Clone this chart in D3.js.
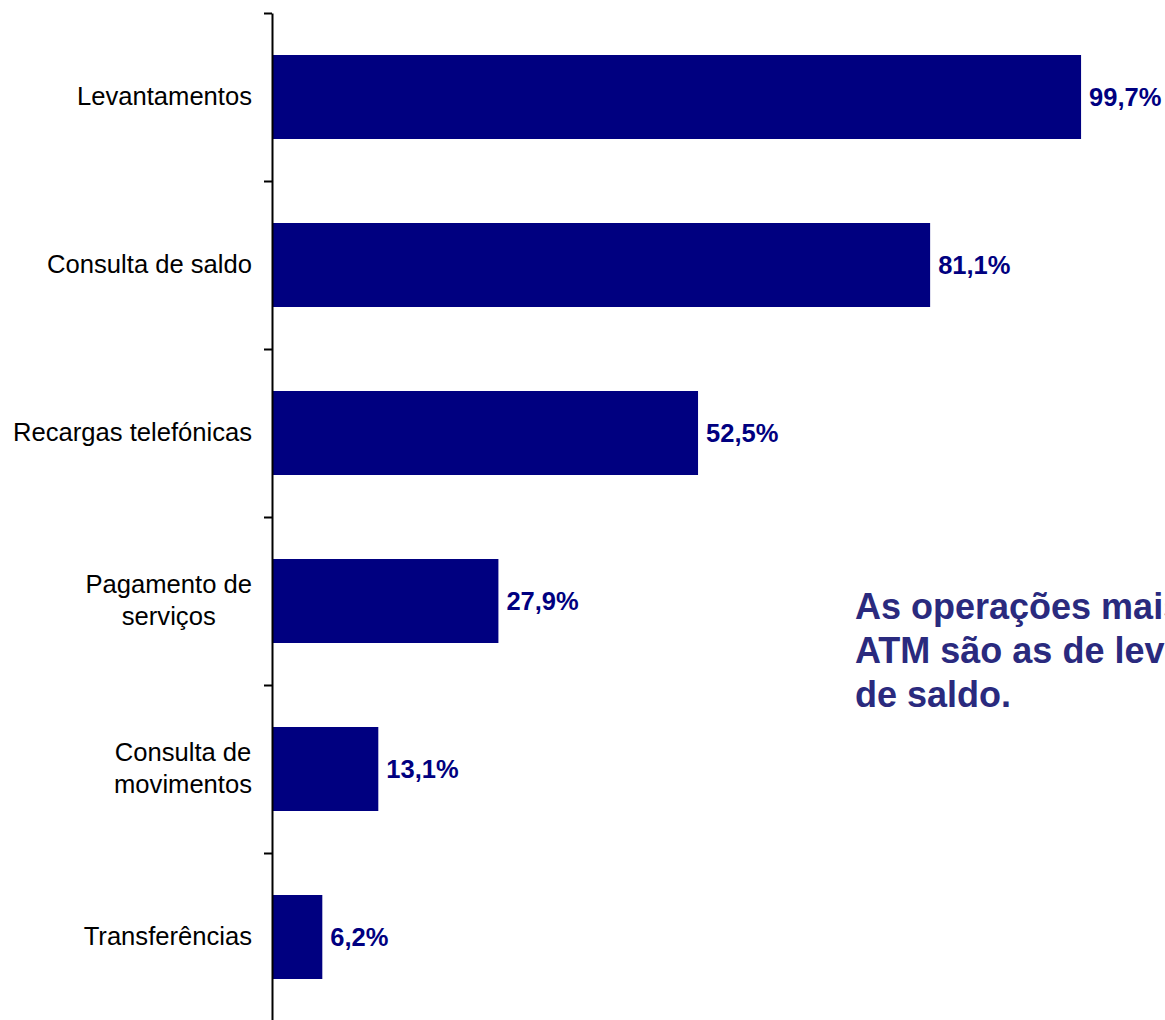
<!DOCTYPE html>
<html>
<head>
<meta charset="utf-8">
<script src="https://cdn.jsdelivr.net/npm/d3@7"></script>
<style>
  html, body { margin: 0; padding: 0; background: #fff; overflow: hidden; }
  svg { display: block; }
</style>
</head>
<body>
<svg id="chart" width="1165" height="1020"></svg>
<script>
// Operações realizadas no ATM (% de utilizadores)
const categories = [
  ["Levantamentos"],
  ["Consulta de saldo"],
  ["Recargas telefónicas"],
  ["Pagamento de", "serviços"],
  ["Consulta de", "movimentos"],
  ["Transferências"]
];
const values = [99.7, 81.1, 52.5, 27.9, 13.1, 6.2];
const valueLabels = ["99,7%", "81,1%", "52,5%", "27,9%", "13,1%", "6,2%"];
const noteLines = [
  "As operações mais realizadas no",
  "ATM são as de levantamentos e consulta",
  "de saldo."
];

const svg = d3.select("#chart");
const barColor = "#000080";
const axisX = 272;
const font = "Liberation Sans, Arial, sans-serif";

const keys = categories.map(c => c.join(" "));

const x = d3.scaleLinear().domain([0, 100]).range([axisX, axisX + 811.5]);
const y = d3.scaleBand().domain(keys).range([13, 1021])
  .paddingInner(0.5).paddingOuter(0.25);
const yEdges = d3.scaleLinear().domain([0, keys.length]).range([13, 1021]);

// bars
svg.append("g").selectAll("rect")
  .data(values)
  .join("rect")
  .attr("x", x(0))
  .attr("y", (d, i) => y(keys[i]))
  .attr("width", d => x(d) - x(0))
  .attr("height", y.bandwidth())
  .attr("fill", barColor);

// value labels
svg.append("g").selectAll("text")
  .data(values)
  .join("text")
  .attr("x", d => x(d) + 8)
  .attr("y", (d, i) => y(keys[i]) + y.bandwidth() / 2)
  .attr("dy", "0.35em")
  .attr("font-family", font)
  .attr("font-weight", "bold")
  .attr("font-size", 25.5)
  .attr("fill", barColor)
  .text((d, i) => valueLabels[i]);

// category axis with ticks at band edges
const axis = d3.axisLeft(yEdges)
  .tickValues(d3.range(keys.length + 1))
  .tickFormat("")
  .tickSize(8)
  .tickSizeOuter(0);
const ag = svg.append("g").attr("transform", `translate(${axisX},0)`).call(axis);
ag.select(".domain").attr("stroke", "#000").attr("stroke-width", 2);
ag.selectAll(".tick line").attr("stroke", "#000").attr("stroke-width", 2);

// category labels: block right-aligned to the axis, lines centred in the block
const lineH = 32;
const lab = svg.append("g").selectAll("text")
  .data(categories)
  .join("text")
  .attr("text-anchor", "middle")
  .attr("font-family", font)
  .attr("font-size", 25.6)
  .attr("fill", "#000")
  .attr("transform", (d, i) => `translate(0,${y(keys[i]) + y.bandwidth() / 2 - 1})`);
lab.each(function(lines) {
  const t = d3.select(this);
  lines.forEach((l, j) => {
    t.append("tspan")
      .attr("x", 0)
      .attr("y", (j - (lines.length - 1) / 2) * lineH)
      .attr("dy", "0.35em")
      .text(l);
  });
  const bb = this.getBBox();
  t.selectAll("tspan").attr("x", 252 - bb.width / 2);
});

// note text
svg.append("text")
  .attr("font-family", font)
  .attr("font-weight", "bold")
  .attr("font-size", 36)
  .attr("fill", "#2a2a7e")
  .selectAll("tspan")
  .data(noteLines)
  .join("tspan")
  .attr("x", 855)
  .attr("y", (d, i) => 619 + i * 44)
  .text(d => d);
</script>
</body>
</html>
